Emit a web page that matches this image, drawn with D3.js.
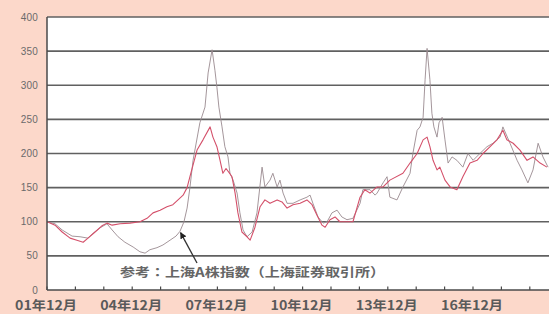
<!DOCTYPE html>
<html>
<head>
<meta charset="utf-8">
<script src="https://cdn.jsdelivr.net/npm/d3@7"></script>
<style>
  html, body { margin: 0; padding: 0; background: #fcd8ca; }
  svg { display: block; }
</style>
</head>
<body>
<svg id="chart" width="549" height="314"></svg>
<script>
// 上海A株指数（参考）: 年(小数), 指数(01年12月=100)
var refYears = [2001.92, 2002.20, 2002.45, 2002.80, 2003.08, 2003.36, 2003.54, 2003.78, 2004.03, 2004.21,
  2004.42, 2004.66, 2004.95, 2005.19, 2005.37, 2005.54, 2005.79, 2006.00, 2006.25, 2006.46,
  2006.60, 2006.74, 2006.85, 2006.95, 2007.06, 2007.30, 2007.48, 2007.59, 2007.73, 2007.83,
  2007.90, 2007.97, 2008.08, 2008.18, 2008.29, 2008.36, 2008.47, 2008.61, 2008.71, 2008.82,
  2008.96, 2009.14, 2009.31, 2009.49, 2009.59, 2009.77, 2009.87, 2010.02, 2010.12, 2010.23,
  2010.37, 2010.58, 2010.83, 2011.07, 2011.18, 2011.28, 2011.46, 2011.64, 2011.78, 2011.95,
  2012.13, 2012.30, 2012.48, 2012.69, 2012.94, 2013.04, 2013.29, 2013.47, 2013.54, 2013.75,
  2013.89, 2013.99, 2014.24, 2014.45, 2014.70, 2014.80, 2014.95, 2015.05, 2015.16, 2015.23,
  2015.30, 2015.40, 2015.47, 2015.54, 2015.65, 2015.72, 2015.83, 2015.93, 2016.04, 2016.18,
  2016.35, 2016.56, 2016.74, 2016.92, 2017.16, 2017.41, 2017.62, 2017.87, 2017.97, 2018.22,
  2018.47, 2018.64, 2018.85, 2019.03, 2019.21, 2019.38, 2019.56];
var refValues = [100, 97, 88, 79, 78, 76, 83, 91, 97, 88,
  78, 70, 63, 56, 54, 59, 62, 66, 73, 79,
  86, 100, 120, 150, 190, 245, 268, 318, 352, 322,
  297, 268, 239, 210, 195, 171, 161, 142, 113, 88,
  78, 85, 113, 180, 151, 161, 171, 151, 161, 142,
  127, 127, 132, 136, 139, 127, 107, 98, 100, 113,
  117, 107, 103, 105, 127, 147, 147, 139, 142, 157,
  166, 136, 132, 151, 171, 200, 234, 239, 253, 308,
  354, 308, 259, 239, 224, 245, 253, 220, 186, 195,
  190, 180, 200, 190, 200, 210, 215, 224, 239, 215,
  190, 176, 157, 176, 215, 195, 180];

// 本線（赤）
var mainYears = [2001.92, 2002.20, 2002.45, 2002.73, 2002.97, 2003.19, 2003.36, 2003.61, 2003.85, 2004.03,
  2004.21, 2004.49, 2004.84, 2005.19, 2005.44, 2005.65, 2005.90, 2006.14, 2006.35, 2006.53,
  2006.71, 2006.85, 2006.95, 2007.20, 2007.41, 2007.66, 2007.76, 2007.90, 2008.01, 2008.11,
  2008.22, 2008.33, 2008.43, 2008.54, 2008.64, 2008.78, 2008.96, 2009.07, 2009.24, 2009.42,
  2009.59, 2009.77, 2010.02, 2010.19, 2010.37, 2010.58, 2010.83, 2011.07, 2011.25, 2011.42,
  2011.60, 2011.71, 2011.88, 2012.06, 2012.23, 2012.48, 2012.69, 2012.94, 2013.11, 2013.29,
  2013.54, 2013.75, 2013.99, 2014.45, 2014.70, 2014.95, 2015.16, 2015.30, 2015.40, 2015.51,
  2015.65, 2015.75, 2015.93, 2016.11, 2016.35, 2016.56, 2016.81, 2017.06, 2017.27, 2017.52,
  2017.76, 2017.97, 2018.11, 2018.33, 2018.57, 2018.82, 2019.03, 2019.28, 2019.52];
var mainValues = [100, 95, 85, 76, 73, 70, 76, 85, 94, 98,
  95, 97, 98, 100, 105, 113, 117, 122, 125, 132,
  139, 150, 166, 205, 220, 239, 224, 210, 190, 171,
  178, 172, 166, 142, 113, 85, 78, 73, 92, 122,
  132, 127, 132, 129, 120, 125, 127, 132, 125, 110,
  95, 92, 103, 107, 100, 100, 100, 136, 147, 142,
  151, 151, 161, 171, 186, 200, 220, 224, 210, 190,
  176, 180, 161, 151, 147, 166, 186, 190, 200, 210,
  220, 234, 220, 215, 205, 190, 195, 186, 180];

var yTicks = [0, 50, 100, 150, 200, 250, 300, 350, 400];
var xTickYears = [2001.917, 2004.917, 2007.917, 2010.917, 2013.917, 2016.917];
var xTickLabels = ["01年12月", "04年12月", "07年12月", "10年12月", "13年12月", "16年12月"];
var noteText = "参考：上海A株指数（上海証券取引所）";

var svg = d3.select("#chart");
var plotL = 47, plotR = 549, plotT = 17, plotB = 290;

var x = d3.scaleLinear()
	.domain([2001.917, 2001.917 + (plotR - plotL) / 28.4])
	.range([plotL, plotR]);
var y = d3.scaleLinear()
	.domain([0, 400])
	.range([plotB, plotT]);

// 背景
svg.append("rect").attr("width", 549).attr("height", 314).attr("fill", "#fcd8ca");
svg.append("rect")
	.attr("x", plotL).attr("y", plotT)
	.attr("width", plotR - plotL + 5).attr("height", plotB - plotT)
	.attr("fill", "#ffffff");

svg.append("clipPath").attr("id", "plotClip")
	.append("rect").attr("x", plotL).attr("y", plotT - 5)
	.attr("width", plotR - plotL + 5).attr("height", plotB - plotT + 5);

// 横線
svg.append("g").selectAll("line")
	.data(yTicks.filter(function(d) { return d > 0; }))
	.enter().append("line")
	.attr("x1", plotL).attr("x2", plotR + 5)
	.attr("y1", function(d) { return y(d); })
	.attr("y2", function(d) { return y(d); })
	.attr("stroke", "#606060")
	.attr("stroke-width", 1.7);

// 縦軸ラベル
svg.append("g").selectAll("text")
	.data(yTicks)
	.enter().append("text")
	.attr("x", 38)
	.attr("y", function(d) { return y(d) + 3.5; })
	.attr("text-anchor", "end")
	.attr("font-family", "Liberation Sans, Arial, sans-serif")
	.attr("font-size", 10)
	.attr("letter-spacing", 0.2)
	.attr("fill", "#6a6a6a")
	.text(function(d) { return d; });

// 線
var valueLine = d3.line()
	.x(function(d) { return x(d[0]); })
	.y(function(d) { return y(d[1]); });

var plot = svg.append("g").attr("clip-path", "url(#plotClip)");
plot.append("path")
	.datum(d3.zip(refYears, refValues))
	.attr("d", valueLine)
	.attr("fill", "none")
	.attr("stroke", "#9a8a90")
	.attr("stroke-width", 0.9)
	.attr("stroke-linejoin", "round");
plot.append("path")
	.datum(d3.zip(mainYears, mainValues))
	.attr("d", valueLine)
	.attr("fill", "none")
	.attr("stroke", "#d4506a")
	.attr("stroke-width", 1.1)
	.attr("stroke-linejoin", "round");

// 軸線
svg.append("line")
	.attr("x1", plotL).attr("x2", plotL)
	.attr("y1", plotT).attr("y2", plotB)
	.attr("stroke", "#4a4a4a").attr("stroke-width", 1.5);
svg.append("line")
	.attr("x1", plotL).attr("x2", plotR + 5)
	.attr("y1", plotB).attr("y2", plotB)
	.attr("stroke", "#4a4a4a").attr("stroke-width", 1.6);

// 目盛り（毎年）
var yearTicks = d3.range(0, 18).map(function(k) { return 2001.917 + k; });
svg.append("g").selectAll("line")
	.data(yearTicks)
	.enter().append("line")
	.attr("x1", function(d) { return x(d); })
	.attr("x2", function(d) { return x(d); })
	.attr("y1", plotB).attr("y2", plotB - 3.5)
	.attr("stroke", "#4a4a4a").attr("stroke-width", 1.2);

// 横軸ラベル
svg.append("g").selectAll("text")
	.data(xTickYears)
	.enter().append("text")
	.attr("x", function(d) { return x(d) - 32; })
	.attr("y", 310)
	.attr("textLength", 62)
	.attr("lengthAdjust", "spacingAndGlyphs")
	.attr("font-family", "Noto Sans CJK JP, sans-serif")
	.attr("font-size", 12.5)
	.attr("font-weight", "bold")
	.attr("fill", "#5a5a5a")
	.text(function(d, i) { return xTickLabels[i]; });

// 注記と矢印
svg.append("defs").append("marker")
	.attr("id", "arrowHead")
	.attr("viewBox", "0 0 10 10")
	.attr("refX", 9).attr("refY", 5)
	.attr("markerWidth", 5).attr("markerHeight", 5)
	.attr("orient", "auto")
	.append("path").attr("d", "M0,0 L10,5 L0,10 z").attr("fill", "#222");

svg.append("line")
	.attr("x1", 197).attr("y1", 263)
	.attr("x2", x(2006.62)).attr("y2", y(84))
	.attr("stroke", "#333").attr("stroke-width", 1.3)
	.attr("marker-end", "url(#arrowHead)");

svg.append("text")
	.attr("x", 120).attr("y", 277)
	.attr("textLength", 265)
	.attr("lengthAdjust", "spacingAndGlyphs")
	.attr("font-family", "Noto Sans CJK JP, sans-serif")
	.attr("font-size", 12.5)
	.attr("font-weight", "bold")
	.attr("fill", "#666")
	.text(noteText);
</script>
</body>
</html>
